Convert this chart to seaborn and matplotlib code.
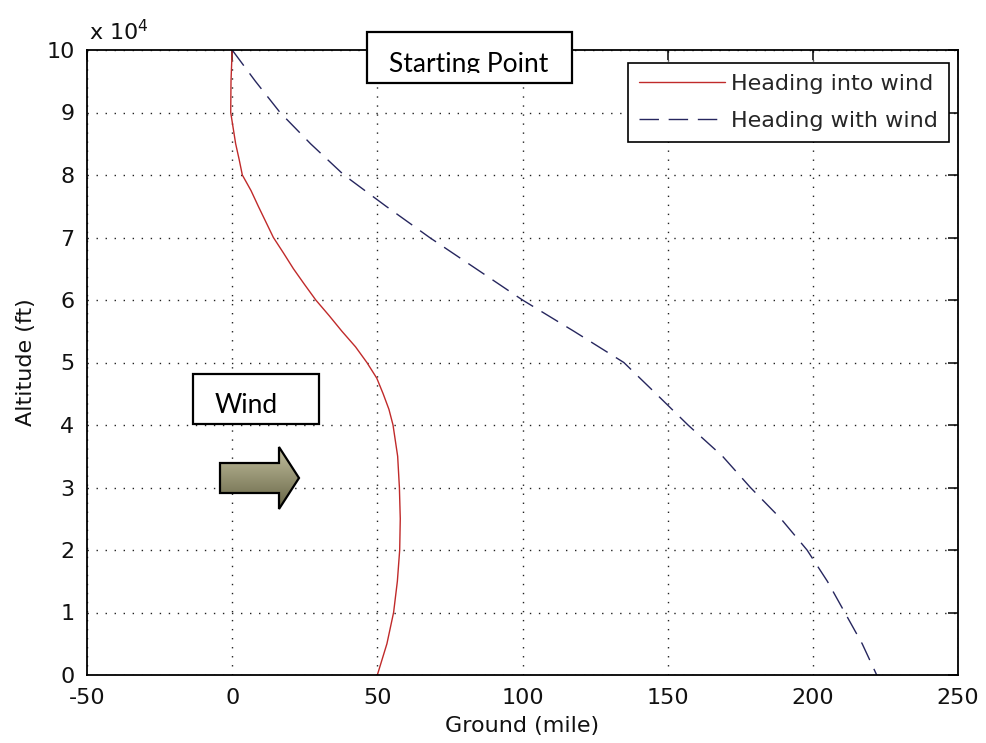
import numpy as np
import pandas as pd
import matplotlib
matplotlib.use("Agg")
import matplotlib.pyplot as plt
import seaborn as sns
from matplotlib.patches import Rectangle, Polygon
from matplotlib.ticker import FuncFormatter

# ---- data ----
alt_into = [100000, 95000, 90000, 85000, 82500, 80000, 77500, 75000, 72500, 70000,
            67500, 65000, 62500, 60000, 57500, 55000, 52500, 50000, 47500, 45000,
            42500, 40000, 35000, 30000, 25000, 20000, 15000, 10000, 5000, 0]
ground_into = [0, -0.4, -0.5, 1.2, 2.4, 3.5, 6.5, 9.0, 11.6, 14.2,
               17.7, 21.1, 24.9, 28.8, 33.4, 37.8, 42.5, 46.4, 49.8, 52.0,
               54.0, 55.4, 57.0, 57.6, 57.9, 57.7, 56.9, 55.6, 53.3, 50.0]

alt_with = [100000, 95000, 90000, 85000, 80000, 75000, 70000, 65000, 60000, 55000,
            50000, 45000, 40000, 35000, 30000, 25000, 20000, 15000, 10000, 5000, 0]
ground_with = [0, 8, 16.5, 27, 38.5, 53, 68, 84, 100, 117.7,
               134.9, 146, 157, 168.9, 178.5, 189, 198, 205, 211, 217, 222]

label_into = "Heading into wind"
label_with = "Heading with wind"
x_ticks = [-50, 0, 50, 100, 150, 200, 250]
y_ticks = [0, 10000, 20000, 30000, 40000, 50000, 60000, 70000, 80000, 90000, 100000]

df_into = pd.DataFrame({"ground": ground_into, "alt": alt_into})
df_with = pd.DataFrame({"ground": ground_with, "alt": alt_with})

sns.set_style("white")
plt.rcParams["font.family"] = ["DejaVu Sans"]
plt.rcParams["axes.unicode_minus"] = False

W, H = 986, 743
fig = plt.figure(figsize=(W / 100, H / 100), dpi=100)
L, R, T, B = 87, 958, 50, 675
ax = fig.add_axes([L / W, 1 - B / H, (R - L) / W, (B - T) / H])

red = "#c02a2a"
navy = "#26265e"
sns.lineplot(data=df_into, x="ground", y="alt", sort=False, estimator=None,
             color=red, linewidth=1.0, label=label_into, ax=ax)
sns.lineplot(data=df_with, x="ground", y="alt", sort=False, estimator=None,
             color=navy, linewidth=1.0, linestyle=(0, (14, 7)), label=label_with, ax=ax)

ax.set_xlim(-50, 250)
ax.set_ylim(0, 100000)
ax.set_xticks(x_ticks)
ax.set_yticks(y_ticks)
ax.yaxis.set_major_formatter(FuncFormatter(lambda v, p: f"{v/1e4:g}"))
ax.grid(True, color="#222222", linestyle=(0, (1, 5.5)), linewidth=1.0)
for s in ax.spines.values():
    s.set_visible(True)
    s.set_color("black")
    s.set_linewidth(1.3)
ax.tick_params(direction="in", length=7, width=1.1, top=True, right=True,
               labelsize=16, colors="black", pad=9)
for lab in ax.get_xticklabels() + ax.get_yticklabels():
    lab.set_color("#111111")

ax.set_xlabel("Ground (mile)", fontsize=16, color="#111111")
ax.set_ylabel("Altitude (ft)", fontsize=16, color="#111111")
ax.xaxis.set_label_coords(0.5, -0.066)
ax.yaxis.set_label_coords(-0.058, 0.5)

leg = ax.legend(loc="upper right", fontsize=16, frameon=True, fancybox=False,
                framealpha=1, edgecolor="black", handlelength=3.9, handletextpad=0.25,
                borderpad=0.5, labelspacing=0.75, borderaxespad=0.0,
                bbox_to_anchor=((949 - L) / (R - L), (B - 63) / (B - T)))
leg.get_frame().set_linewidth(1.2)

# ---- overlay annotations in pixel coordinates ----
ov = fig.add_axes([0, 0, 1, 1], zorder=10)
ov.set_xlim(0, W)
ov.set_ylim(H, 0)
ov.axis("off")
ov.patch.set_alpha(0)

ov.text(89, 40, r"x 10$^{4}$", fontsize=16, color="#111111", va="baseline", ha="left")

# Starting Point box
ov.add_patch(Rectangle((367, 32), 205, 51, facecolor="white", edgecolor="black", linewidth=1.6))
t = ov.text(389, 72, "Starting Point", fontsize=19, family=["Lato", "DejaVu Sans"],
            va="baseline", ha="left", color="black")
clip = Rectangle((367, 32), 205, 41, transform=ov.transData)
t.set_clip_path(clip)
t.set_clip_on(True)

# Wind box
ov.add_patch(Rectangle((193, 374), 126, 50, facecolor="white", edgecolor="black", linewidth=1.6))
ov.text(215, 413, "Wind", fontsize=19, family=["Lato", "DejaVu Sans"],
        va="baseline", ha="left", color="black")

# Arrow with gradient
arrow_pts = [(220, 463), (279, 463), (279, 447), (299, 478), (279, 509), (279, 493), (220, 493)]
poly = Polygon(arrow_pts, closed=True, facecolor="none", edgecolor="black", linewidth=1.6, zorder=3)
ov.add_patch(poly)
c_top = np.array([0.76, 0.75, 0.62])
c_bot = np.array([0.40, 0.39, 0.27])
tgrad = np.linspace(0, 1, 64)[:, None]
grad = (c_top[None, :] * (1 - tgrad) + c_bot[None, :] * tgrad)[:, None, :]
im = ov.imshow(grad, extent=[220, 299, 509, 447], aspect="auto", zorder=2, interpolation="bilinear")
clip_poly = Polygon(arrow_pts, closed=True, transform=ov.transData)
im.set_clip_path(clip_poly)
ov.set_xlim(0, W)
ov.set_ylim(H, 0)

fig.savefig("out.png", dpi=100)
